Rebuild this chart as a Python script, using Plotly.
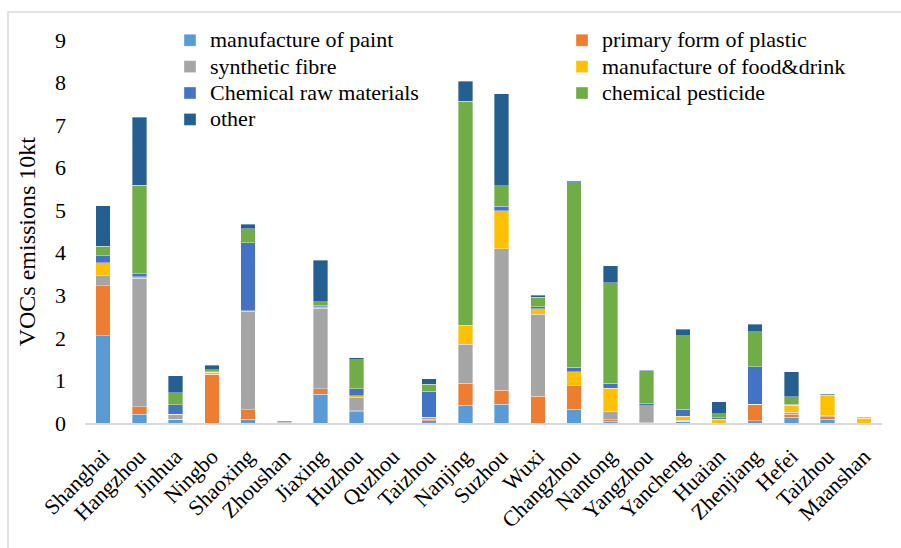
import plotly.graph_objects as go

cities = ["Shanghai", "Hangzhou", "Jinhua", "Ningbo", "Shaoxing", "Zhoushan", "Jiaxing",
          "Huzhou", "Quzhou", "Taizhou", "Nanjing", "Suzhou", "Wuxi", "Changzhou", "Nantong",
          "Yangzhou", "Yancheng", "Huaian", "Zhenjiang", "Hefei", "Taizhou ", "Maanshan"]
tick_text = ["Shanghai", "Hangzhou", "Jinhua", "Ningbo", "Shaoxing", "Zhoushan", "Jiaxing",
             "Huzhou", "Quzhou", "Taizhou", "Nanjing", "Suzhou", "Wuxi", "Changzhou", "Nantong",
             "Yangzhou", "Yancheng", "Huaian", "Zhenjiang", "Hefei", "Taizhou", "Maanshan"]

paint     = [2.05, 0.20, 0.08, 0.00, 0.09, 0.01, 0.68, 0.26, 0.02, 0.05, 0.42, 0.44, 0.00, 0.32, 0.04, 0.01, 0.04, 0.00, 0.05, 0.13, 0.09, 0.00]
plastic   = [1.17, 0.18, 0.01, 1.13, 0.22, 0.00, 0.12, 0.03, 0.00, 0.04, 0.52, 0.33, 0.63, 0.56, 0.04, 0.00, 0.00, 0.00, 0.38, 0.07, 0.06, 0.00]
fibre     = [0.24, 3.02, 0.11, 0.01, 2.30, 0.05, 1.90, 0.30, 0.00, 0.03, 0.91, 3.33, 1.92, 0.00, 0.18, 0.40, 0.02, 0.00, 0.01, 0.05, 0.02, 0.00]
food      = [0.30, 0.04, 0.01, 0.05, 0.03, 0.00, 0.03, 0.05, 0.00, 0.01, 0.43, 0.89, 0.14, 0.33, 0.56, 0.00, 0.10, 0.09, 0.00, 0.17, 0.47, 0.11]
chem_raw  = [0.17, 0.07, 0.22, 0.02, 1.60, 0.00, 0.02, 0.16, 0.00, 0.62, 0.02, 0.10, 0.04, 0.10, 0.12, 0.04, 0.16, 0.03, 0.88, 0.02, 0.00, 0.02]
pesticide = [0.22, 2.08, 0.28, 0.04, 0.33, 0.00, 0.10, 0.69, 0.00, 0.16, 5.26, 0.48, 0.22, 4.34, 2.35, 0.78, 1.73, 0.10, 0.83, 0.18, 0.01, 0.02]
other     = [0.95, 1.59, 0.40, 0.11, 0.10, 0.02, 0.98, 0.04, 0.01, 0.13, 0.47, 2.17, 0.05, 0.03, 0.40, 0.01, 0.15, 0.28, 0.17, 0.59, 0.02, 0.00]

series_names = ["manufacture of paint", "primary form of plastic", "synthetic fibre",
                "manufacture of food&drink", "Chemical raw materials", "chemical pesticide", "other"]
series_values = [paint, plastic, fibre, food, chem_raw, pesticide, other]
colors = ["#5B9BD5", "#ED7D31", "#A5A5A5", "#FFC000", "#4472C4", "#70AD47", "#255E91"]
y_title = "VOCs emissions 10kt"

FONT = "Liberation Serif"

fig = go.Figure()
for name, vals, col in zip(series_names, series_values, colors):
    fig.add_trace(go.Bar(
        x=cities, y=vals,
        name='<span style="font-size:22px">' + name.replace("&", "&amp;") + "</span>",
        marker=dict(color=col, line=dict(color="rgba(255,255,255,0.6)", width=0.6)),
    ))

top_px = 40.0
bot_px = 423.3
ph = bot_px - top_px

fig.update_layout(
    barmode="stack",
    bargap=0.6,
    width=901, height=548,
    margin=dict(l=85, r=19, t=40, b=125, autoexpand=False),
    paper_bgcolor="white", plot_bgcolor="white",
    font=dict(family=FONT, size=22, color="black"),
    showlegend=True,
    legend=dict(
        orientation="h", x=(170 - 85) / 797, y=(bot_px - 22) / ph,
        xanchor="left", yanchor="top",
        traceorder="normal", entrywidth=347, entrywidthmode="pixels",
        font=dict(family=FONT, size=18, color="black"),
        bgcolor="rgba(0,0,0,0)", itemwidth=30, tracegroupgap=0,
    ),
    xaxis=dict(
        tickmode="array", tickvals=cities, ticktext=tick_text,
        tickangle=-45, tickfont=dict(family=FONT, size=22),
        showline=True, linecolor="#D9D9D9", linewidth=2,
        ticks="", showgrid=False, ticklabelstandoff=10,
    ),
    yaxis=dict(
        range=[0, 9], dtick=1, showgrid=False, zeroline=False,
        showline=False, ticks="", tickfont=dict(family=FONT, size=22),
        ticklabelstandoff=18,
    ),
    annotations=[dict(text=y_title, textangle=-90, showarrow=False,
                      xref="paper", yref="paper",
                      x=(27 - 85) / 797, y=(bot_px - 241.5) / ph,
                      xanchor="center", yanchor="middle",
                      font=dict(family=FONT, size=24, color="black"))],
    shapes=[dict(type="rect", xref="paper", yref="paper",
                 x0=(8 - 85) / 797, x1=(905 - 85) / 797,
                 y0=(bot_px - 552) / ph, y1=(bot_px - 12) / ph,
                 line=dict(color="#D9D9D9", width=1.5), layer="below")],
)

fig.write_html("out.html")
